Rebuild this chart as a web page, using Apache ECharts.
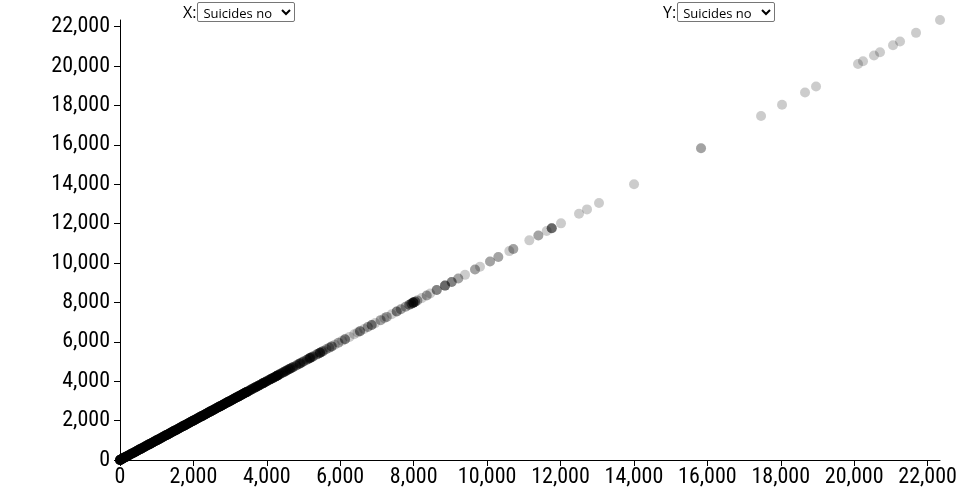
<!DOCTYPE html>
<html>
<head>
<meta charset="utf-8">
<script src="https://cdn.jsdelivr.net/npm/echarts@6/dist/echarts.min.js"></script>
<style>
  html, body { margin: 0; padding: 0; background: #fff; overflow: hidden; }
  #chart { position: absolute; left: 0; top: 0; width: 960px; height: 500px; }
  .ctl { position: absolute; top: 2px; font-family: "Open Sans", "Noto Sans", sans-serif; font-size: 16px; line-height: 20px; color: #000; z-index: 2; }
  .ctl select { font-family: "Open Sans", "Noto Sans", sans-serif; font-size: 13px; height: 20px; width: 98px; vertical-align: top; padding: 0 0 0 1px; margin: 0 0 0 1px; border: 1px solid #767676; border-radius: 2px; background: #fff; }
</style>
</head>
<body>
<div id="chart"></div>
<div class="ctl" style="left:183px">X:<select><option>Suicides no</option></select></div>
<div class="ctl" style="left:663px">Y:<select><option>Suicides no</option></select></div>
<script>
// suicides_no values (x and y are the same column); each value repeated "count" times
const lowValues = [0, 18, 41, 63, 87, 110, 134, 159, 181, 206, 229, 254, 277, 301, 326, 348, 372, 397, 421, 446, 468, 493, 517, 540, 566, 589, 612, 638, 661, 685, 709, 734, 757, 781, 806, 829, 853, 878, 902, 925, 951, 974, 998, 1023, 1047, 1070, 1095, 1119, 1142, 1168, 1191, 1215, 1240, 1263, 1288, 1311, 1336, 1360, 1384, 1407, 1432, 1456, 1481, 1504, 1529, 1552, 1577, 1600, 1626, 1649, 1673, 1698, 1721, 1746, 1770, 1793, 1818, 1842, 1867, 1890, 1915, 1938, 1963, 1987, 2011, 2034, 2059, 2083, 2108, 2131, 2156, 2179, 2203, 2228, 2252, 2276, 2300, 2325, 2348, 2373, 2396, 2421, 2445, 2469, 2494, 2517, 2541, 2566, 2590, 2613, 2638, 2662, 2687, 2710, 2734, 2759, 2783, 2806, 2831, 2855, 2880, 2903, 2928, 2951, 2976, 3000, 3024, 3049, 3072, 3097, 3120, 3145, 3169, 3192, 3218, 3241, 3265, 3290, 3313, 3338, 3362, 3386, 3411, 3435, 3458, 3483];
const lowCounts = [12, 8, 7, 6, 6, 5, 5, 5, 5, 5, 4, 4, 4, 4, 4, 4, 4, 4, 4, 4, 4, 4, 4, 4, 4, 4, 4, 4, 4, 4, 4, 4, 4, 4, 4, 4, 4, 4, 4, 4, 4, 4, 4, 4, 4, 4, 4, 4, 4, 4, 4, 4, 4, 4, 4, 4, 4, 4, 4, 4, 4, 4, 4, 4, 4, 4, 4, 4, 4, 4, 4, 4, 4, 4, 4, 4, 4, 4, 4, 4, 4, 4, 4, 4, 4, 4, 4, 4, 4, 4, 4, 4, 4, 4, 4, 4, 4, 4, 4, 4, 4, 4, 4, 4, 4, 4, 4, 4, 4, 4, 4, 4, 4, 4, 4, 4, 4, 4, 4, 4, 4, 4, 4, 4, 4, 4, 4, 4, 4, 4, 4, 4, 4, 4, 4, 4, 4, 4, 4, 4, 4, 4, 4, 4, 4, 4];
const midValues = [3530, 3587, 3650, 3700, 3760, 3800, 3860, 3904, 3960, 4000, 4060, 4100, 4140, 4180, 4230, 4268, 4310, 4350, 4400, 4450, 4500, 4540, 4590, 4631, 4680, 4720, 4800, 4860, 4904, 4950, 5000, 5090, 5140, 5176, 5220, 5260, 5350, 5400, 5449, 5500, 5540, 5620, 5700, 5767, 5850, 5950, 6050, 6130, 6250, 6380, 6470, 6538, 6650, 6750, 6857, 6950, 7100, 7200, 7266, 7400, 7538, 7650, 7780, 7880, 7940, 7991, 8040, 8100, 8219, 8355, 8450];
const midCounts = [6, 6, 5, 6, 5, 6, 5, 7, 5, 5, 4, 5, 4, 5, 4, 7, 4, 4, 3, 4, 3, 4, 3, 4, 3, 3, 3, 2, 4, 2, 3, 3, 2, 5, 2, 3, 2, 2, 5, 2, 2, 2, 2, 3, 1, 2, 1, 3, 1, 1, 1, 3, 1, 2, 3, 1, 2, 1, 2, 1, 3, 2, 2, 3, 3, 6, 3, 2, 1, 2, 1];
const highValues = [8628, 8854, 9036, 9216, 9399, 9671, 9807, 10080, 10306, 10606, 10715, 11151, 11396, 11624, 11761, 12014, 12504, 12722, 13049, 14003, 15828, 17463, 18035, 18661, 18961, 20105, 20241, 20540, 20704, 21058, 21249, 21685, 22338];
const highCounts = [3, 4, 3, 2, 1, 2, 1, 2, 2, 1, 2, 1, 2, 1, 4, 1, 1, 1, 1, 1, 2, 1, 1, 1, 1, 1, 1, 1, 1, 1, 1, 1, 1];
const tickStep = 2000;

const points = [];
function addPoints(vals, counts) {
  vals.forEach((v, i) => { for (let k = 0; k < counts[i]; k++) points.push([v, v]); });
}
addPoints(lowValues, lowCounts);
addPoints(midValues, midCounts);
addPoints(highValues, highCounts);
const maxVal = Math.max(...points.map(p => p[0]));

const labelFont = { fontFamily: '"Roboto Condensed", "Liberation Sans Narrow", "DejaVu Sans Condensed", sans-serif', fontSize: 22, color: '#000' };
const fmt = v => v.toLocaleString('en-US');

const axisCommon = {
  type: 'value', min: 0, max: maxVal, interval: tickStep,
  axisLine: { show: true, onZero: false, lineStyle: { color: '#000', width: 1 } },
  axisTick: { show: true, length: 6, lineStyle: { color: '#000' } },
  splitLine: { show: false },
  axisLabel: Object.assign({ formatter: fmt, showMaxLabel: false, hideOverlap: false }, labelFont)
};

const chart = echarts.init(document.getElementById('chart'), null, { renderer: 'canvas' });
chart.setOption({
  animation: false,
  backgroundColor: '#fff',
  grid: { left: 120, right: 20, top: 20, bottom: 40, containLabel: false },
  xAxis: Object.assign({}, axisCommon, { axisLabel: Object.assign({}, axisCommon.axisLabel, { margin: 6 }) }),
  yAxis: Object.assign({}, axisCommon, { axisLabel: Object.assign({}, axisCommon.axisLabel, { margin: 10 }) }),
  series: [{
    type: 'scatter',
    data: points,
    symbol: 'circle',
    symbolSize: 10,
    clip: false,
    large: false,
    itemStyle: { color: '#000', opacity: 0.2 },
    emphasis: { disabled: true }
  }]
});
</script>
</body>
</html>
